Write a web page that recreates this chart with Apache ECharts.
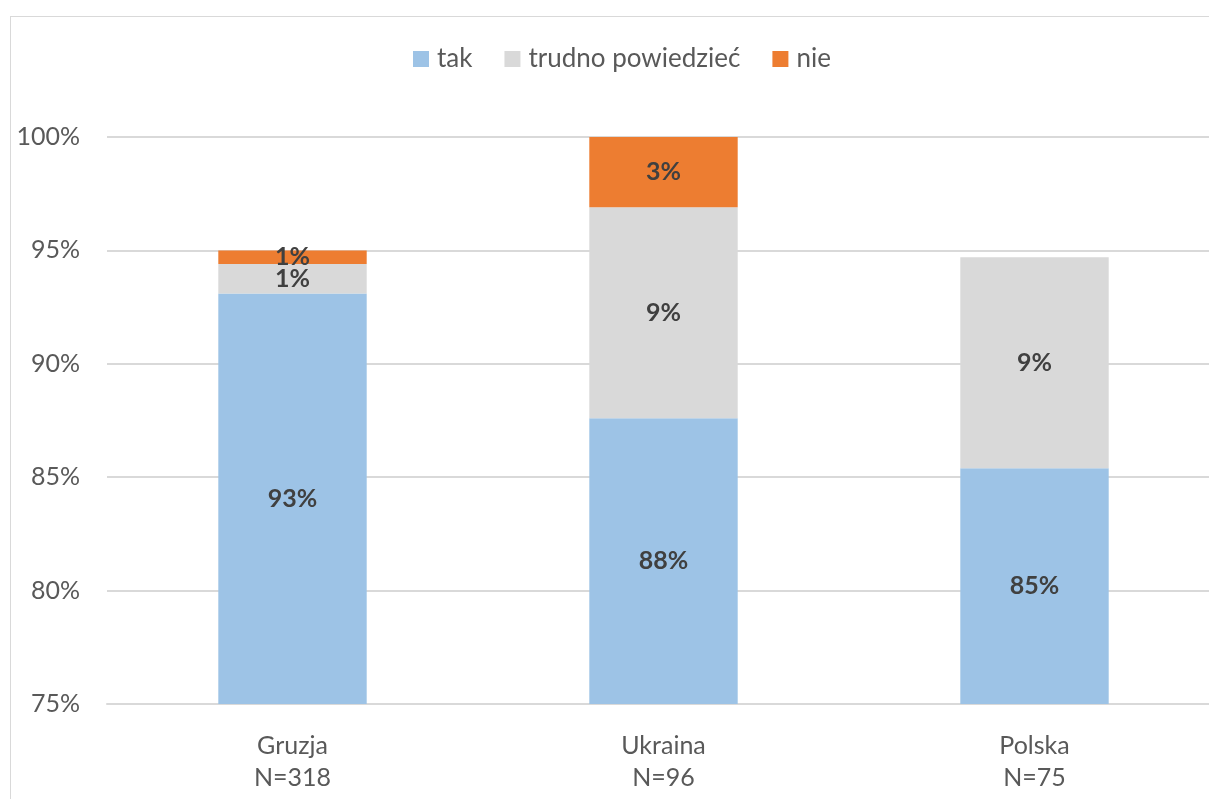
<!DOCTYPE html>
<html>
<head>
<meta charset="utf-8">
<script src="https://cdn.jsdelivr.net/npm/echarts@6/dist/echarts.min.js"></script>
<style>
  html, body { margin: 0; padding: 0; background: #fff; overflow: hidden; }
  #frame { position: absolute; left: 10px; top: 16px; width: 1220px; height: 800px; border: 1px solid #d9d9d9; box-sizing: border-box; }
  #chart { position: absolute; left: 0; top: 0; width: 1220px; height: 799px; }
</style>
</head>
<body>
<div id="frame"></div>
<div id="chart"></div>
<script>
// dane
const categories = ['Gruzja\nN=318', 'Ukraina\nN=96', 'Polska\nN=75'];
const tak = [93.1, 87.6, 85.4];
const trudno = [1.3, 9.3, 9.3];
const nie = [0.6, 3.1, 0];
const yTicks = [75, 80, 85, 90, 95, 100];

const chart = echarts.init(document.getElementById('chart'));

const labelStyle = {
    show: true,
    position: 'inside',
    fontFamily: 'Lato',
    fontWeight: 'bold',
    fontSize: 25,
    color: '#404040',
    formatter: p => p.value > 0 ? Math.round(p.value) + '%' : ''
};

const option = {
    animation: false,
    textStyle: { fontFamily: 'Lato' },
    legend: {
        top: 41,
        left: 408,
        itemWidth: 16,
        itemHeight: 16,
        itemGap: 32,
        icon: 'rect',
        textStyle: { fontSize: 26, color: '#595959', fontFamily: 'Lato', padding: [0, 0, 0, 3] }
    },
    grid: { left: 107, right: 0, top: 137, bottom: 95 },
    xAxis: {
        type: 'category',
        data: categories,
        axisTick: { show: false },
        axisLine: { lineStyle: { color: '#d9d9d9', width: 2 } },
        axisLabel: { fontSize: 25, color: '#595959', lineHeight: 32, margin: 26, fontFamily: 'Lato' }
    },
    yAxis: {
        type: 'value',
        min: yTicks[0],
        max: yTicks[yTicks.length - 1],
        interval: 5,
        axisLine: { show: false },
        axisTick: { show: false },
        splitLine: { lineStyle: { color: '#d9d9d9', width: 2 } },
        axisLabel: { fontSize: 25, color: '#595959', margin: 27, formatter: v => v + '%', fontFamily: 'Lato' }
    },
    series: [
        { name: 'tak', type: 'bar', stack: 'a', data: tak, barWidth: '40%', itemStyle: { color: '#9dc3e6' }, label: labelStyle },
        { name: 'trudno powiedzieć', type: 'bar', stack: 'a', data: trudno, itemStyle: { color: '#d9d9d9' }, label: labelStyle },
        { name: 'nie', type: 'bar', stack: 'a', data: nie, itemStyle: { color: '#ed7d31' }, label: labelStyle }
    ]
};

chart.setOption(option);
</script>
</body>
</html>
